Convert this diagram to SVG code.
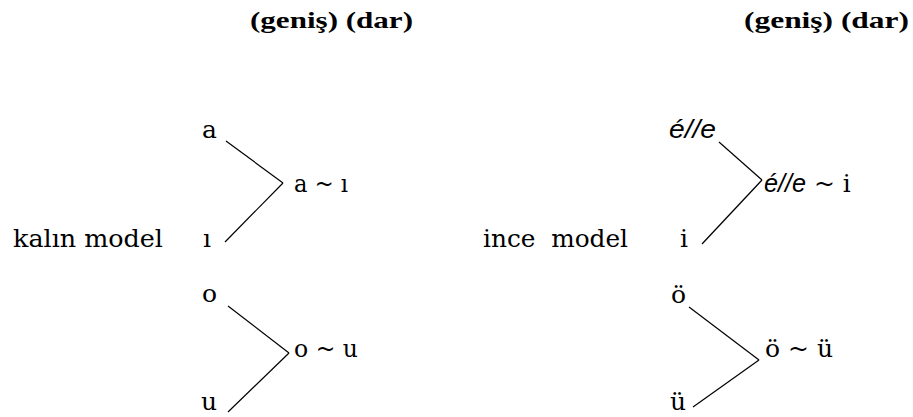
<svg xmlns="http://www.w3.org/2000/svg" width="913" height="417" viewBox="0 0 913 417">
<style>
text{font-family:"DejaVu Serif","Liberation Serif",serif;font-size:25px;fill:#000;white-space:pre}
.h{font-family:"Liberation Serif","Times New Roman",serif;font-weight:bold;font-size:24px}
.s{font-family:"Liberation Sans",Arial,sans-serif;font-style:italic;font-size:26px}
line{stroke:#000;stroke-width:1.2}
</style>
<rect width="913" height="417" fill="#fff"/>
<g id="header-left"><text class="h" x="250" y="28" textLength="163" lengthAdjust="spacingAndGlyphs">(geniş) (dar)</text></g>
<g id="header-right"><text class="h" x="744" y="28" textLength="165" lengthAdjust="spacingAndGlyphs">(geniş) (dar)</text></g>
<g id="label-kalin"><text x="13" y="247" textLength="150" lengthAdjust="spacingAndGlyphs">kalın model</text></g>
<g id="label-ince"><text x="483" y="247" textLength="145" lengthAdjust="spacingAndGlyphs">ince  model</text></g>
<g id="node-a"><text x="202" y="138">a</text></g>
<g id="node-i-dotless"><text x="203" y="247">ı</text></g>
<g id="node-a-i"><text x="294" y="192" textLength="54" lengthAdjust="spacingAndGlyphs">a ~ ı</text></g>
<g id="node-o"><text x="202" y="302">o</text></g>
<g id="node-u"><text x="201" y="410">u</text></g>
<g id="node-o-u"><text x="294" y="357" textLength="64" lengthAdjust="spacingAndGlyphs">o ~ u</text></g>
<g id="node-e"><text class="s" x="669" y="138" textLength="47" lengthAdjust="spacingAndGlyphs">é//e</text></g>
<g id="node-i"><text x="680" y="247">i</text></g>
<g id="node-e-i"><text x="764" y="192"><tspan class="s" textLength="42" lengthAdjust="spacingAndGlyphs">é//e</tspan> ~ i</text></g>
<g id="node-oe"><text x="671" y="303">ö</text></g>
<g id="node-ue"><text x="670" y="410">ü</text></g>
<g id="node-oe-ue"><text x="765" y="357" textLength="68" lengthAdjust="spacingAndGlyphs">ö ~ ü</text></g>
<g id="connectors">
<line x1="226" y1="141" x2="283" y2="183"/>
<line x1="283" y1="183" x2="225" y2="242"/>
<line x1="228" y1="306" x2="289" y2="353"/>
<line x1="289" y1="353" x2="228" y2="412"/>
<line x1="719" y1="142" x2="762" y2="180"/>
<line x1="762" y1="180" x2="702" y2="244"/>
<line x1="689" y1="307" x2="759" y2="360"/>
<line x1="759" y1="360" x2="693" y2="407"/>
</g>
</svg>
